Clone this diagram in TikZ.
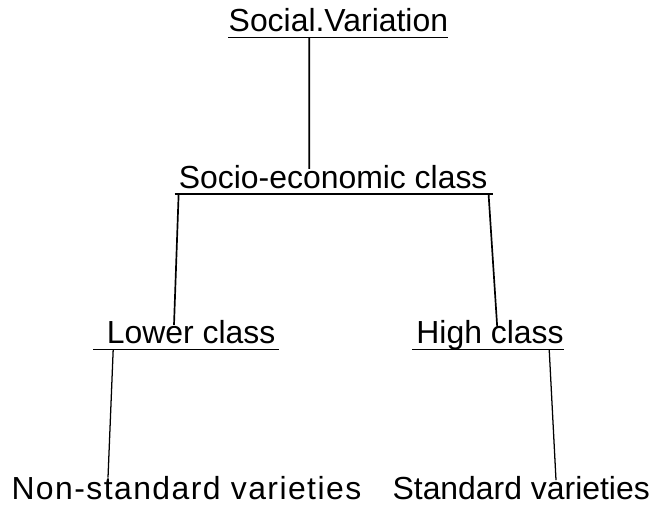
\documentclass[tikz,border=0pt]{standalone}
\usepackage{fontspec}
\setmainfont{Liberation Sans}
\usetikzlibrary{positioning}

\begin{document}
\begin{tikzpicture}[
  lvl/.style={font=\fontsize{22.7}{27}\selectfont,inner sep=0pt,
    text height=0.57cm,text depth=0.15cm,anchor=base},
  uline/.style={line width=1.3pt},
  branch/.style={line width=1.2pt},
  twig/.style={line width=0.9pt}]
  \useasboundingbox (0,0) rectangle (16.4,-12.65);
  % the four levels
  \node[lvl] (sv)  at (8.46,-0.78)  {Social.Variation};
  \node[lvl] (sec) at (8.33,-4.7)   {Socio-economic class};
  \node[lvl] (lc)  at (4.78,-8.58)  {Lower class};
  \node[lvl] (hc)  at (12.25,-8.58) {High class};
  \node[lvl] (nsv) at (4.66,-12.48) {\addfontfeatures{LetterSpace=4.5}Non-standard varieties};
  \node[lvl] (stv) at (13.03,-12.48) {Standard varieties};
  % underlines
  \draw[uline] (sv.south west)--(sv.south east);
  \draw[uline] ([xshift=-0.1cm]sec.south west)--([xshift=0.12cm]sec.south east);
  \draw[uline] ([xshift=-0.33cm]lc.south west)--([xshift=0.07cm]lc.south east);
  \draw[uline] ([xshift=-0.1cm]hc.south west)--(hc.south east);
  % branches
  \draw[branch] ([xshift=-0.73cm]sv.south)--([xshift=-0.6cm,yshift=-0.1cm]sec.north);
  \draw[branch] ([xshift=0.0cm]sec.south west)--([xshift=-0.43cm,yshift=-0.12cm]lc.north);
  \draw[branch] ([xshift=0.02cm]sec.south east)--([xshift=0.18cm,yshift=-0.17cm]hc.north);
  \draw[twig] ([xshift=-1.95cm]lc.south)--([xshift=-1.96cm,yshift=-0.04cm]nsv.north);
  \draw[twig] ([xshift=1.48cm]hc.south)--([xshift=0.87cm,yshift=-0.1cm]stv.north);
\end{tikzpicture}
\end{document}
